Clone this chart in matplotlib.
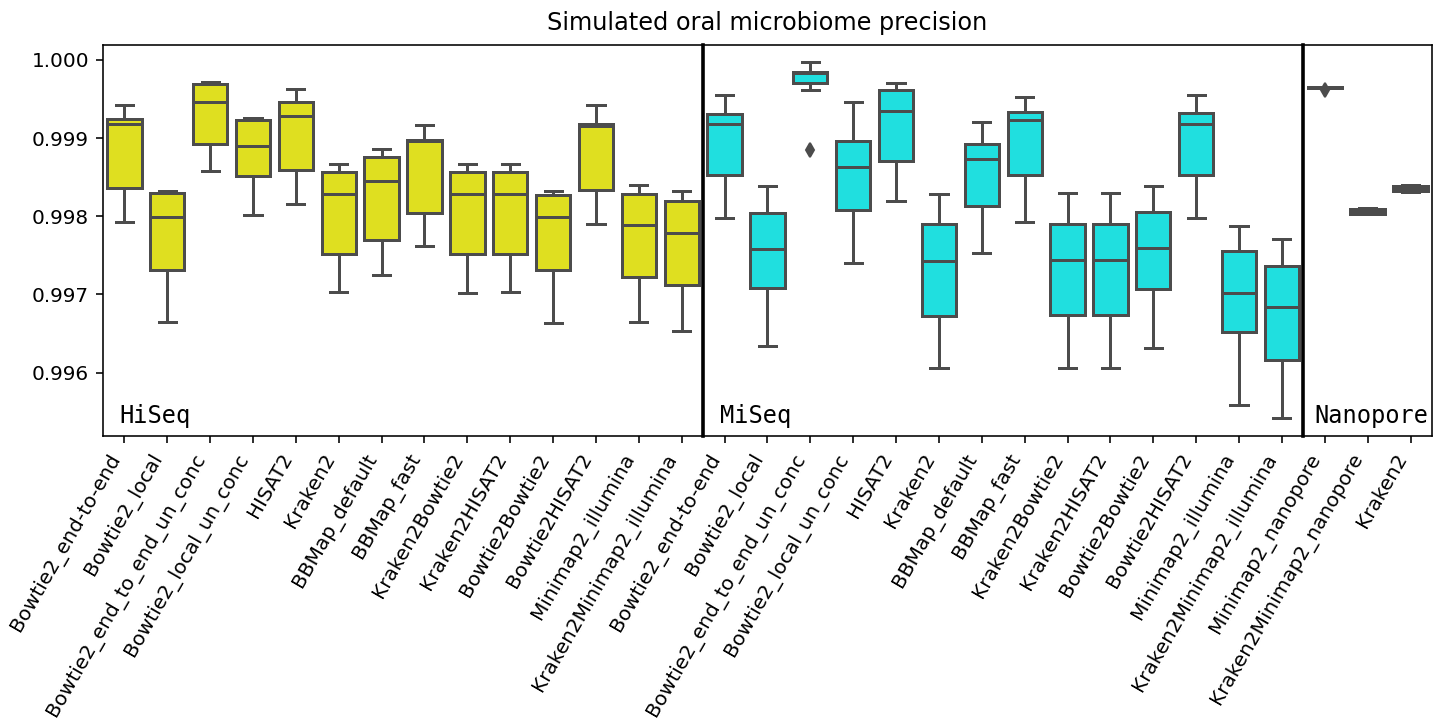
import numpy as np
import matplotlib
matplotlib.use("Agg")
import matplotlib.pyplot as plt

# tools shown on the x axis of each panel
illumina_tools = ["Bowtie2_end-to-end", "Bowtie2_local", "Bowtie2_end_to_end_un_conc",
                  "Bowtie2_local_un_conc", "HISAT2", "Kraken2", "BBMap_default", "BBMap_fast",
                  "Kraken2Bowtie2", "Kraken2HISAT2", "Bowtie2Bowtie2", "Bowtie2HISAT2",
                  "Minimap2_illumina", "Kraken2Minimap2_illumina"]
nanopore_tools = ["Minimap2_nanopore", "Kraken2Minimap2_nanopore", "Kraken2"]

# box statistics: whisker low, q1, median, q3, whisker high
hiseq_whislo = [0.997921, 0.996652, 0.998581, 0.998010, 0.998160, 0.997035, 0.997252,
                0.997623, 0.997014, 0.997035, 0.996630, 0.997900, 0.996652, 0.996537]
hiseq_q1 = [0.998355, 0.997312, 0.998927, 0.998509, 0.998594, 0.997517, 0.997700,
            0.998036, 0.997512, 0.997512, 0.997316, 0.998335, 0.997218, 0.997121]
hiseq_med = [0.999178, 0.997994, 0.999467, 0.998892, 0.999284, 0.998288, 0.998454,
             0.998965, 0.998288, 0.998288, 0.997990, 0.999160, 0.997887, 0.997789]
hiseq_q3 = [0.999242, 0.998297, 0.999689, 0.999229, 0.999467, 0.998560, 0.998764,
            0.998978, 0.998560, 0.998560, 0.998270, 0.999182, 0.998284, 0.998189]
hiseq_whishi = [0.999425, 0.998317, 0.999723, 0.999255, 0.999626, 0.998671, 0.998859,
                0.999165, 0.998667, 0.998667, 0.998317, 0.999425, 0.998394, 0.998322]

miseq_whislo = [0.997972, 0.996336, 0.999608, 0.997402, 0.998189, 0.996060, 0.997534,
                0.997921, 0.996060, 0.996060, 0.996319, 0.997972, 0.995582, 0.995421]
miseq_q1 = [0.998527, 0.997077, 0.999702, 0.998079, 0.998709, 0.996728, 0.998125,
            0.998527, 0.996741, 0.996741, 0.997073, 0.998527, 0.996520, 0.996166]
miseq_med = [0.999178, 0.997585, 0.999827, 0.998624, 0.999352, 0.997431, 0.998731,
             0.999229, 0.997444, 0.997444, 0.997589, 0.999182, 0.997019, 0.996843]
miseq_q3 = [0.999310, 0.998045, 0.999843, 0.998965, 0.999608, 0.997900, 0.998927,
            0.999335, 0.997900, 0.997900, 0.998049, 0.999319, 0.997550, 0.997364]
miseq_whishi = [0.999553, 0.998381, 0.999978, 0.999463, 0.999702, 0.998288, 0.999204,
                0.999531, 0.998300, 0.998300, 0.998381, 0.999549, 0.997879, 0.997712]
miseq_fliers = [[], [], [0.998850], [], [], [], [], [], [], [], [], [], [], []]

nano_whislo = [0.999635, 0.998025, 0.998310]
nano_q1 = [0.999640, 0.998035, 0.998320]
nano_med = [0.999646, 0.998065, 0.998350]
nano_q3 = [0.999652, 0.998095, 0.998385]
nano_whishi = [0.999658, 0.998105, 0.998395]
nano_fliers = [[0.999610], [], []]

panel_names = ["HiSeq", "MiSeq", "Nanopore"]
yticks = [0.996, 0.997, 0.998, 0.999, 1.000]

yellow = (0.875, 0.875, 0.125)
cyan = (0.125, 0.875, 0.875)
gray = "#4c4c4c"


def make_stats(wlo, q1, med, q3, whi, fl=None):
    stats = []
    for i in range(len(med)):
        stats.append({"whislo": wlo[i], "q1": q1[i], "med": med[i], "q3": q3[i],
                      "whishi": whi[i], "fliers": fl[i] if fl else []})
    return stats


panels = [
    (make_stats(hiseq_whislo, hiseq_q1, hiseq_med, hiseq_q3, hiseq_whishi), illumina_tools, yellow),
    (make_stats(miseq_whislo, miseq_q1, miseq_med, miseq_q3, miseq_whishi, miseq_fliers), illumina_tools, cyan),
    (make_stats(nano_whislo, nano_q1, nano_med, nano_q3, nano_whishi, nano_fliers), nanopore_tools, cyan),
]
label_offsets = [8, 8.5, 5.5]  # points from the left edge of each panel

fig, axes = plt.subplots(1, 3, figsize=(10, 722 / 144), dpi=144, sharey=True,
                         gridspec_kw={"width_ratios": [14, 14, 3], "wspace": 0})
fig.subplots_adjust(left=0.0715, right=0.9944, top=0.9377, bottom=0.3961)

for ax, (stats, labels, col), name, off in zip(axes, panels, panel_names, label_offsets):
    pos = np.arange(len(stats))
    ax.bxp(stats, positions=pos, widths=0.8, patch_artist=True,
           boxprops=dict(facecolor=col, edgecolor=gray, linewidth=1.5),
           medianprops=dict(color=gray, linewidth=1.5),
           whiskerprops=dict(color=gray, linewidth=1.5),
           capprops=dict(color=gray, linewidth=1.5),
           flierprops=dict(marker="d", markerfacecolor=gray, markeredgecolor=gray,
                           markersize=5))
    ax.set_xlim(-0.5, len(stats) - 0.5)
    ax.set_xticks(pos)
    ax.set_xticklabels(labels, rotation=60, ha="right")
    ax.annotate(name, xy=(0, 0), xycoords="axes fraction", xytext=(off, 4),
                textcoords="offset points", ha="left", va="bottom",
                family="DejaVu Sans Mono", fontsize=11.8)

axes[0].set_ylim(0.99519, 1.00019)
axes[0].set_yticks(yticks)
axes[0].set_yticklabels(["%.3f" % v for v in yticks])
for ax in axes[1:]:
    ax.tick_params(axis="y", left=False)
    ax.spines["left"].set_linewidth(1.8)

fig.suptitle("Simulated oral microbiome precision", x=(0.0715 + 0.9944) / 2, y=0.952,
             va="bottom", fontsize=12)

fig.savefig("out.png", dpi=144)
